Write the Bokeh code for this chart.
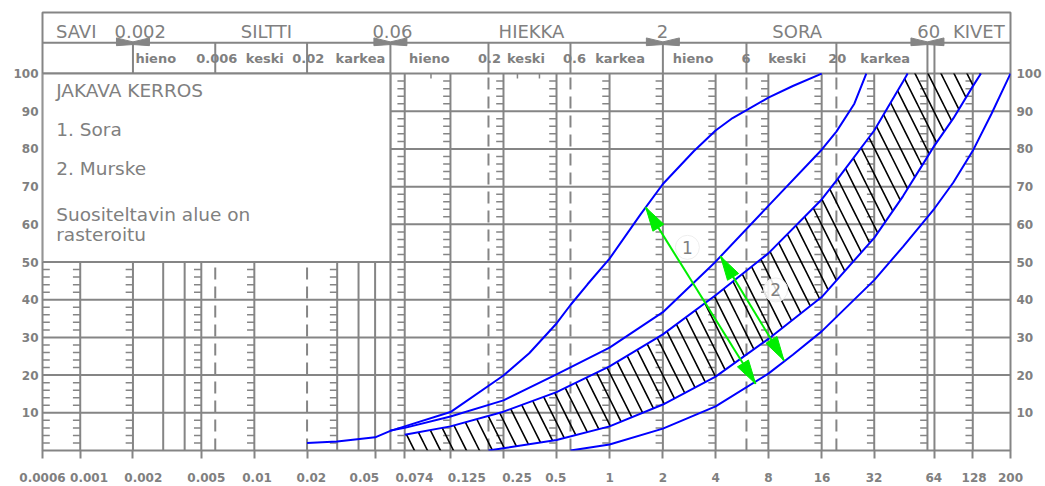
import numpy as np
from bokeh.plotting import figure
from bokeh.models import Range1d, FixedTicker, LinearAxis
from bokeh.core.properties import value
from bokeh.embed import file_html
from bokeh.resources import INLINE

# ---- printed grading-form scale: grain size (mm) -> horizontal chart position
AXIS_NODE_SIZE = [0.0006, 0.001, 0.002, 0.005, 0.01, 0.02, 0.05, 0.06, 0.074, 0.125, 0.2, 0.25,
                  0.5, 1, 2, 4, 8, 16, 20, 32, 60, 64, 128, 200]
AXIS_NODE_POS = [0, 37.7, 90.4, 158.7, 211.7, 264.4, 332.4, 347.7, 362.0, 407.7, 445.7, 460.7,
                 513.7, 566.7, 620.0, 672.7, 725.4, 778.7, 793.4, 831.2, 884.4, 891.4, 929.7, 967.4]

XTICK_SIZES = [0.0006, 0.001, 0.002, 0.005, 0.01, 0.02, 0.05, 0.074, 0.125, 0.25, 0.5, 1, 2, 4,
               8, 16, 32, 64, 128, 200]
XTICK_LABELS = ["0.0006", "0.001", "0.002", "0.005", "0.01", "0.02", "0.05", "0.074", "0.125",
                "0.25", "0.5", "1", "2", "4", "8", "16", "32", "64", "128", "200"]
# printed label centres (chart position) - the form prints some labels off their tick
XLABEL_POS = [0.0, 46.5, 100.7, 163.7, 214.4, 268.7, 321.7, 371.7, 424.0, 474.2, 513.0, 566.7,
              620.0, 672.7, 725.4, 779.0, 831.0, 890.7, 931.0, 967.4]
YTICKS = [10, 20, 30, 40, 50, 60, 70, 80, 90, 100]

# form grid
GRID_SOLID = [0.001, 0.002, 0.003, 0.004, 0.005, 0.01, 0.03, 0.04, 0.05, 0.06, 0.074, 0.125,
              0.25, 0.5, 1, 2, 4, 8, 16, 32, 60, 64, 128]
GRID_DASHED = [0.006, 0.02, 0.2, 0.6, 6, 20]
GRID_COMB = [0.001, 0.002, 0.005, 0.01, 0.03, 0.074, 0.125, 0.25, 0.5, 1, 2, 4, 8, 16, 32, 60, 128]
GRID_SHORT = [0.1, 0.3, 0.4]
HEADER_SEP = [0.002, 0.006, 0.02, 0.06, 0.2, 0.6, 2, 6, 20, 60, 64]
MAIN_BOUNDS = [0.002, 0.06, 2, 60]

# ---- grading curves (grain size mm, passing %)
A_size = [0.02, 0.03, 0.05, 0.06, 0.074, 0.125, 0.25, 0.35, 0.5, 0.6, 0.75, 1, 1.5, 2, 3, 4, 5, 8, 11, 16]
A_pct = [2.0, 2.4, 3.5, 5.2, 6.4, 10.2, 19.9, 25.8, 33.7, 38.6, 44.1, 50.9, 62.7, 70.7, 79.4, 84.9, 88.2, 93.6, 96.7, 100]

B_size = [0.06, 0.074, 0.125, 0.25, 0.5, 1, 2, 4, 8, 16, 20, 25, 29]
B_pct = [5.3, 6.0, 9.0, 13.3, 20.2, 27.3, 36.7, 50.1, 64.9, 79.8, 84.6, 92, 100]

C_size = [0.074, 0.125, 0.25, 0.5, 1, 2, 4, 8, 16, 20, 32, 45, 47.5]
C_pct = [4.2, 6.4, 10.3, 15.5, 22.3, 30.8, 41.2, 52.3, 66.6, 71.6, 84.9, 97.9, 100]

D_size = [0.2, 0.5, 1, 2, 4, 8, 16, 32, 45, 60, 64, 90, 128, 141]
D_pct = [0, 2.8, 6.4, 12.2, 19.6, 29.6, 40.7, 56.4, 67.5, 77.9, 80.9, 88.1, 96.6, 100]

E_size = [0.6, 1, 2, 4, 8, 11, 16, 32, 45, 60, 64, 90, 128, 160, 200]
E_pct = [0, 1.6, 5.8, 11.7, 20.4, 25.4, 31.6, 45.2, 54.1, 61.9, 64.2, 71.1, 79.5, 89.4, 100]

# range arrows (from, to) and their labels
ARROW_1 = [(1.6, 64.5), (6.77, 17.7)]
ARROW_2 = [(4.27, 51.5), (9.8, 23.9)]
ARROW_LABELS = ["1", "2"]
ARROW_LABEL_SIZE = [2.76, 8.8]
ARROW_LABEL_PCT = [53.9, 42.6]

HEAD1 = ["SAVI", "0.002", "SILTTI", "0.06", "HIEKKA", "2", "SORA", "60", "KIVET"]
HEAD1_X = [33.7, 97.7, 223.7, 349.7, 488.7, 619.7, 754.2, 885.7, 935.7]
HEAD2 = ["hieno", "0.006", "keski", "0.02", "karkea", "hieno", "0.2", "keski", "0.6", "karkea",
         "hieno", "6", "keski", "20", "karkea"]
HEAD2_X = [113.2, 174.2, 222.2, 265.7, 317.7, 386.7, 446.7, 483.2, 531.7, 577.2, 650.2, 703.2,
           744.2, 794.2, 842.2]
NOTE_TEXT = ["JAKAVA KERROS", "1. Sora", "2. Murske", "Suositeltavin alue on", "rasteroitu"]
NOTE_Y = [95.6, 85.1, 74.9, 62.5, 57.3]


def gx(s):
    return np.interp(np.log10(np.asarray(s, dtype=float)), np.log10(AXIS_NODE_SIZE), AXIS_NODE_POS)


W, H = 1045, 486
BL, BR, BT, BB = 42, 35, 12, 36
X_END = 967.4
Y_TOP = 116.2
ROW_LINE = 108.2
FW, FH = W - BL - BR, H - BT - BB
KX, KY = FW / X_END, FH / Y_TOP

GRAY = "#858585"
TXT = "#808080"
FONT = value("DejaVu Sans")

p = figure(width=W, height=H, x_range=Range1d(0, X_END), y_range=Range1d(0, Y_TOP),
           output_backend="svg", toolbar_location=None,
           min_border_left=BL, min_border_right=BR, min_border_top=BT, min_border_bottom=BB)
p.xgrid.visible = False
p.ygrid.visible = False
p.outline_line_color = GRAY
p.outline_line_width = 2
p.background_fill_color = "white"

# bottom axis: tick marks (minor) at the sieve sizes, labels at the form's printed label places
xl = [round(float(v), 3) for v in XLABEL_POS]
xt = [round(float(v), 3) for v in gx(XTICK_SIZES)]
p.xaxis.ticker = FixedTicker(ticks=xl, minor_ticks=xt)
p.xaxis.major_label_overrides = {v: lab for v, lab in zip(xl, XTICK_LABELS)}
p.xaxis.axis_line_color = None
p.xaxis.major_tick_line_color = None
p.xaxis.major_tick_out = 0
p.xaxis.major_tick_in = 0
p.xaxis.minor_tick_line_color = GRAY
p.xaxis.minor_tick_line_width = 2
p.xaxis.minor_tick_out = 8
p.xaxis.minor_tick_in = 0
p.xaxis.major_label_standoff = 14

p.yaxis.ticker = FixedTicker(ticks=YTICKS)
p.yaxis.major_label_standoff = 4

ry = LinearAxis(ticker=FixedTicker(ticks=YTICKS), major_label_standoff=6)
p.add_layout(ry, "right")

for ax in [p.yaxis[0], ry]:
    ax.axis_line_color = None
    ax.major_tick_line_color = None
    ax.minor_tick_line_color = None
    ax.major_tick_out = 0
    ax.major_tick_in = 0

for ax in p.axis:
    ax.major_label_text_font = "DejaVu Sans"
    ax.major_label_text_font_style = "bold"
    ax.major_label_text_font_size = "12px"
    ax.major_label_text_color = TXT

# horizontal grid and header rows
p.segment(x0=[0] * len(YTICKS), y0=YTICKS, x1=[X_END] * len(YTICKS), y1=YTICKS,
          line_color=GRAY, line_width=2)
p.segment(x0=[0], y0=[ROW_LINE], x1=[X_END], y1=[ROW_LINE], line_color=GRAY, line_width=2)

# vertical grid
gs = gx(GRID_SOLID)
p.segment(x0=gs, y0=[0] * len(gs), x1=gs, y1=[100] * len(gs), line_color=GRAY, line_width=2)
gd = gx(GRID_DASHED)
p.segment(x0=gd, y0=[0] * len(gd), x1=gd, y1=[100] * len(gd), line_color=GRAY, line_width=2,
          line_dash="12 7")
hs = gx(HEADER_SEP)
p.segment(x0=hs, y0=[100] * len(hs), x1=hs, y1=[ROW_LINE] * len(hs), line_color=GRAY, line_width=2)
sh = gx(GRID_SHORT)
p.segment(x0=sh, y0=[100] * len(sh), x1=sh, y1=[100 - 5 / KY] * len(sh), line_color=GRAY, line_width=1.5)

# comb ticks every 2 %
comb_pct = [v for v in range(2, 100, 2) if v % 10]
cx0, cx1, cy = [], [], []
for c in gx(GRID_COMB):
    for v in comb_pct:
        cx0.append(c - 7.3 / KX); cx1.append(c); cy.append(v)
for v in comb_pct:
    cx0.append(0); cx1.append(7.3 / KX); cy.append(v)
p.segment(x0=cx0, y0=cy, x1=cx1, y1=cy, line_color=GRAY, line_width=1.5)

# note box covering upper-left
p.quad(left=[0], right=[gx(0.06)], bottom=[50], top=[100], fill_color="white",
       line_color=GRAY, line_width=2)

# main fraction boundary bow-ties
bx, by = [], []
for c in gx(MAIN_BOUNDS):
    hw = 16.5 / KX
    bx.append([c - hw, c - hw, c, c]); by.append([ROW_LINE + 1.25, ROW_LINE - 0.8, ROW_LINE - 0.5, ROW_LINE + 0.2])
    bx.append([c + hw, c + hw, c, c]); by.append([ROW_LINE + 1.25, ROW_LINE - 0.8, ROW_LINE - 0.5, ROW_LINE + 0.2])
p.patches(xs=bx, ys=by, fill_color=GRAY, line_color=GRAY, line_width=1)

# header texts
p.text(x=HEAD1_X, y=[111.2] * len(HEAD1), text=HEAD1, text_font=FONT, text_font_size="18px",
       text_color=TXT, text_align="center", text_baseline="middle")
p.text(x=HEAD2_X, y=[104.1] * len(HEAD2), text=HEAD2, text_font=FONT, text_font_size="13px",
       text_font_style="bold", text_color=TXT, text_align="center", text_baseline="middle")
p.text(x=[13.7] * len(NOTE_TEXT), y=NOTE_Y, text=NOTE_TEXT, text_font=FONT, text_font_size="18.5px",
       text_color=TXT, text_align="left", text_baseline="middle")

# recommended (hatched) zone between curves C and D
hx = list(gx(C_size)) + list(gx(D_size[::-1])) + [float(gx(0.074))]
hy = list(C_pct) + list(D_pct[::-1]) + [0]
p.patch(x=hx, y=hy, fill_alpha=0, line_color=None, hatch_pattern="\\", hatch_color="black",
        hatch_weight=1.6, hatch_scale=26)

for sz, pc in [(A_size, A_pct), (B_size, B_pct), (C_size, C_pct), (D_size, D_pct), (E_size, E_pct)]:
    p.line(x=gx(sz), y=pc, line_color="#0000ff", line_width=2)


def head(tip, tail, L=24.0, Wd=13.0):
    tx, ty = float(gx(tip[0])), tip[1]
    ax_, ay_ = float(gx(tail[0])), tail[1]
    dx, dy = (tx - ax_) * KX, (ty - ay_) * KY
    n = np.hypot(dx, dy)
    ux, uy = dx / n, dy / n
    bxp, byp = -L * ux, -L * uy
    px, py = -uy * Wd / 2, ux * Wd / 2
    xs = [tx, tx + (bxp + px) / KX, tx + (bxp - px) / KX]
    ys = [ty, ty + (byp + py) / KY, ty + (byp - py) / KY]
    return xs, ys


axs, ays, hxs, hys = [], [], [], []
for a in [ARROW_1, ARROW_2]:
    axs.append(list(gx([a[0][0], a[1][0]]))); ays.append([a[0][1], a[1][1]])
    for tip, tail in [(a[0], a[1]), (a[1], a[0])]:
        xs, ys = head(tip, tail)
        hxs.append(xs); hys.append(ys)
p.multi_line(xs=axs, ys=ays, line_color="#00ee00", line_width=2)
p.patches(xs=hxs, ys=hys, fill_color="#00ee00", line_color="#00ee00", line_width=1)

lx = gx(ARROW_LABEL_SIZE)
p.scatter(x=lx, y=ARROW_LABEL_PCT, size=24, marker="circle", fill_color="white", fill_alpha=0.85,
          line_color="#eeeeee", line_width=1)
p.text(x=lx, y=ARROW_LABEL_PCT, text=ARROW_LABELS, text_font=FONT, text_font_size="17px",
       text_color=TXT, text_align="center", text_baseline="middle")

open("out.html", "w").write(file_html(p, INLINE))
